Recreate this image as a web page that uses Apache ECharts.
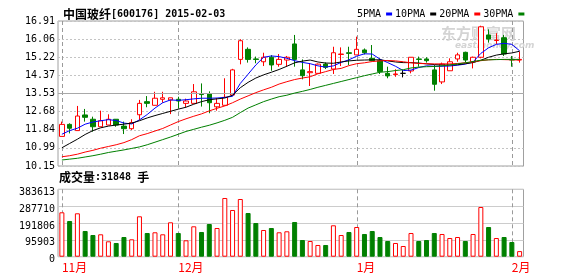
<!DOCTYPE html>
<html><head><meta charset="utf-8">
<script src="https://cdn.jsdelivr.net/npm/echarts@6/dist/echarts.min.js"></script>
<style>html,body{margin:0;padding:0;background:#fff}#c{width:578px;height:276px}</style>
</head><body><div id="c"></div>
<script>
const stockName = '中国玻纤';
const stockCode = '600176';
const dates = [
 '2014-11-10','2014-11-11','2014-11-12','2014-11-13','2014-11-14',
 '2014-11-17','2014-11-18','2014-11-19','2014-11-20','2014-11-21',
 '2014-11-24','2014-11-25','2014-11-26','2014-11-27','2014-11-28',
 '2014-12-01','2014-12-02','2014-12-03','2014-12-04','2014-12-05',
 '2014-12-08','2014-12-09','2014-12-10','2014-12-11','2014-12-12',
 '2014-12-15','2014-12-16','2014-12-17','2014-12-18','2014-12-19',
 '2014-12-22','2014-12-23','2014-12-24','2014-12-25','2014-12-26',
 '2014-12-29','2014-12-30','2014-12-31',
 '2015-01-05','2015-01-06','2015-01-07','2015-01-08','2015-01-09',
 '2015-01-12','2015-01-13','2015-01-14','2015-01-15','2015-01-16',
 '2015-01-19','2015-01-20','2015-01-21','2015-01-22','2015-01-23',
 '2015-01-26','2015-01-27','2015-01-28','2015-01-29','2015-01-30',
 '2015-02-02','2015-02-03'];
const opens = [11.53,12.09,11.80,12.53,12.33,11.98,12.06,12.33,12.01,11.89,
 12.54,13.15,12.98,13.26,13.23,13.26,13.07,13.07,13.52,13.51,
 12.91,12.98,13.46,15.12,15.59,15.14,15.01,15.22,14.89,15.09,
 15.84,14.63,14.50,14.47,14.90,14.67,15.35,15.43,15.33,15.56,
 15.17,15.06,14.47,14.41,14.47,14.58,15.14,15.14,14.63,14.07,
 14.59,15.14,15.45,15.01,15.22,16.26,16.00,16.13,15.12,15.09];
const closes = [12.09,11.91,12.48,12.42,11.98,12.26,12.33,12.06,11.89,12.17,
 13.07,13.07,13.31,13.33,13.33,13.18,13.18,13.61,13.48,13.10,
 13.07,13.35,14.63,15.99,15.12,15.12,15.22,14.86,15.12,15.22,
 15.12,14.36,14.55,14.90,14.75,15.43,15.37,15.40,15.59,15.43,
 15.06,14.55,14.35,14.44,14.47,15.22,15.12,15.06,13.96,14.90,
 15.01,15.33,15.09,15.22,16.64,16.07,16.02,15.37,15.09,15.12];
const lows = [11.53,11.67,11.80,12.22,11.75,11.98,12.06,11.98,11.64,11.83,
 12.29,12.89,12.98,13.10,12.57,12.84,12.89,13.07,12.92,12.61,
 12.73,12.98,13.46,14.89,14.97,14.94,14.81,14.59,14.78,14.78,
 14.78,14.19,13.88,14.47,14.67,14.44,14.81,14.86,15.33,15.35,
 15.06,14.44,14.24,14.31,14.28,14.47,14.78,14.97,13.66,13.97,
 14.59,15.01,14.97,14.70,15.17,15.90,15.84,15.28,14.78,14.97];
const highs = [12.22,12.14,12.95,12.81,12.45,12.73,12.56,12.34,12.22,12.33,
 13.23,13.41,13.61,13.61,13.33,13.38,13.29,13.97,14.00,13.63,
 13.31,14.24,14.68,16.06,15.68,15.25,15.43,15.32,15.37,15.28,
 16.26,15.12,14.95,14.93,14.98,15.71,15.68,15.71,16.18,15.63,
 15.79,15.17,14.78,14.66,14.63,15.22,15.25,15.22,14.86,14.97,
 15.17,15.43,15.48,15.25,16.69,16.52,16.34,16.26,15.28,15.48];
const volumes = [252700,203200,247000,146300,123500,127500,87600,78000,112100,99000,
 229900,134900,138900,127500,195800,134900,93300,173000,140600,186100,
 163300,334100,265800,328400,248700,191800,152000,163300,138900,144600,
 197500,95000,89400,66600,66600,178700,123500,140600,169000,129200,
 146300,112100,89400,78000,60900,134900,89400,95000,134900,129200,
 106400,112100,89400,129200,282900,169000,106400,112100,83700,31848];
const ma5 = [11.63,11.80,11.91,12.10,12.20,12.26,12.31,12.27,12.15,12.11,
 12.30,12.55,12.85,13.10,13.23,13.21,13.24,13.28,13.31,13.31,
 13.32,13.35,13.40,14.00,14.43,14.86,15.22,15.28,15.25,15.17,
 15.06,14.98,14.92,14.82,14.76,14.82,14.98,15.10,15.27,15.38,
 15.37,15.13,14.97,14.80,14.60,14.62,14.74,14.82,14.80,14.80,
 14.81,14.85,14.90,15.00,15.40,15.66,15.82,15.87,15.82,15.52];
const ma10 = [11.00,11.20,11.40,11.62,11.80,11.93,12.01,12.06,12.10,12.15,
 12.26,12.39,12.50,12.60,12.70,12.80,12.89,13.03,13.15,13.24,
 13.28,13.32,13.45,13.80,14.05,14.25,14.40,14.52,14.65,14.80,
 14.96,15.04,15.09,15.00,14.95,14.94,15.00,15.05,15.08,15.09,
 15.10,15.10,15.05,15.00,14.97,14.97,14.95,14.91,14.88,14.86,
 14.86,14.87,14.92,14.97,15.08,15.22,15.32,15.38,15.42,15.50];
const ma20 = [10.58,10.63,10.70,10.80,10.88,10.98,11.06,11.14,11.24,11.38,
 11.56,11.66,11.78,11.90,12.06,12.22,12.35,12.47,12.58,12.72,
 12.84,12.95,13.10,13.27,13.42,13.57,13.70,13.82,13.97,14.08,
 14.18,14.25,14.31,14.45,14.55,14.65,14.70,14.83,14.92,14.96,
 15.02,15.05,15.07,15.05,15.01,14.96,14.93,14.92,14.91,14.91,
 14.91,14.93,14.96,15.00,15.06,15.10,15.12,15.11,15.10,15.09];
const ma30 = [10.43,10.47,10.51,10.57,10.63,10.70,10.78,10.84,10.90,10.97,
 11.04,11.14,11.26,11.38,11.50,11.63,11.76,11.86,11.96,12.05,
 12.16,12.28,12.42,12.64,12.85,13.00,13.15,13.27,13.38,13.45,
 13.55,13.63,13.72,13.82,13.91,14.00,14.09,14.18,14.27,14.36,
 14.44,14.52,14.55,14.60,14.64,14.72,14.76,14.78,14.79,14.82,
 14.86,14.91,14.96,15.02,15.08,15.10,15.11,15.12,15.12,15.12];
const priceTicks = ['10.15','10.99','11.84','12.68','13.53','14.37','15.22','16.06','16.91'];
const volTicks = ['0','95903','191806','287710','383613'];
const maNames = ['5PMA','10PMA','20PMA','30PMA'];

const RED = '#ff0000', GREEN = '#008000';
const MONO = 'DejaVu Sans Mono', CJK = 'Noto Sans CJK SC';
const pMin = +priceTicks[0], pMax = +priceTicks[priceTicks.length - 1];
const pStep = (pMax - pMin) / (priceTicks.length - 1);
const vMax = +volTicks[volTicks.length - 1];
const isMonthStart = (i) => i === 0 || dates[i].slice(5, 7) !== dates[i - 1].slice(5, 7);
const monthStartIdx = dates.map((d, i) => i).filter(isMonthStart);

const candleData = dates.map((d, i) => {
  const it = { value: [opens[i], closes[i], lows[i], highs[i]] };
  if (opens[i] === closes[i]) {
    it.itemStyle = { color: '#000', color0: '#000', borderColor: '#000', borderColor0: '#000', borderColorDoji: '#000' };
  }
  return it;
});
const volData = volumes.map((v, i) => {
  const up = closes[i] >= opens[i];
  return { value: v, itemStyle: up ? { color: '#ffffff', borderColor: RED, borderWidth: 1 } : { color: GREEN, borderColor: GREEN, borderWidth: 1 } };
});
const maColors = ['#0000ff', '#000000', RED, GREEN];
const maData = [ma5, ma10, ma20, ma30];

function monthGuide(params, api) {
  const cs = params.coordSys;
  const x = Math.round(api.coord([api.value(0), api.value(1)])[0]) + 0.5;
  return { type: 'line', z2: 10,
    shape: { x1: x, y1: cs.y, x2: x, y2: cs.y + cs.height },
    style: { stroke: '#9a9a9a', lineWidth: 1, lineDash: [4, 3], fill: null } };
}

const chart = echarts.init(document.getElementById('c'));
chart.setOption({
  animation: false,
  backgroundColor: '#ffffff',
  title: [{
    left: 63, top: 8, padding: 0,
    text: '{c|' + stockName + '}{a|[' + stockCode + '] ' + dates[dates.length - 1] + '}',
    textStyle: { rich: { c: { fontFamily: CJK, fontSize: 12, color: '#000' }, a: { fontFamily: MONO, fontSize: 10, color: '#000' } } }
  }, {
    left: 59, top: 171, padding: 0,
    text: '{c|成交量}{a|:' + volumes[volumes.length - 1] + ' }{c|手}',
    textStyle: { rich: { c: { fontFamily: CJK, fontSize: 12, color: '#000' }, a: { fontFamily: MONO, fontSize: 10, color: '#000' } } }
  }],
  legend: {
    data: maNames, left: 357, top: 9, padding: 0, align: 'right', icon: 'rect',
    itemWidth: 6, itemHeight: 3, itemGap: 3, selectedMode: false,
    textStyle: { fontFamily: MONO, fontSize: 10, color: '#000' }
  },
  graphic: [
    { type: 'text', left: 441, top: 26, silent: true, style: { text: '东方财富网', fill: '#d4d4d4', font: 'bold 15px "Noto Sans CJK SC"' } },
    { type: 'text', left: 455, top: 41, silent: true, style: { text: 'eastmoney.com', fill: '#d4d4d4', font: 'italic bold 9px "DejaVu Sans"' } }
  ],
  grid: [
    { left: 58, top: 21, width: 465.5, height: 145, show: true, borderColor: '#a0a0a0', borderWidth: 1 },
    { left: 58, top: 189.3, width: 465.5, height: 67.4, show: true, borderColor: '#a0a0a0', borderWidth: 1 }
  ],
  xAxis: [
    { type: 'category', gridIndex: 0, data: dates, boundaryGap: true,
      axisLine: { show: false }, axisTick: { show: false }, axisLabel: { show: false }, splitLine: { show: false } },
    { type: 'category', gridIndex: 1, data: dates, boundaryGap: true,
      axisLine: { show: false }, axisTick: { show: false }, splitLine: { show: false },
      axisLabel: { show: true, interval: (i) => isMonthStart(i), formatter: (v) => parseInt(v.slice(5, 7), 10) + '月',
        color: RED, fontFamily: CJK, fontSize: 12, align: 'left', margin: 5 } }
  ],
  yAxis: [
    { type: 'value', gridIndex: 0, min: pMin, max: pMax, interval: pStep, scale: true,
      axisLine: { show: false }, axisTick: { show: false },
      axisLabel: { formatter: (v, i) => priceTicks[i], fontFamily: MONO, fontSize: 10, color: '#000', margin: 3 },
      splitLine: { show: true, lineStyle: { color: '#c4c4c4', type: [2, 2], width: 1 } } },
    { type: 'value', gridIndex: 1, min: 0, max: vMax, interval: vMax / (volTicks.length - 1),
      axisLine: { show: false }, axisTick: { show: false },
      axisLabel: { formatter: (v, i) => volTicks[i], fontFamily: MONO, fontSize: 10, color: '#000', margin: 3, verticalAlign: 'top', lineHeight: 6 },
      splitLine: { show: true, lineStyle: { color: '#cccccc', width: 1 } } }
  ],
  series: [
    { type: 'custom', name: 'monthGuide', coordinateSystem: 'cartesian2d', xAxisIndex: 0, yAxisIndex: 0, z: 2,
      renderItem: monthGuide, encode: { x: 0, y: 1 }, data: monthStartIdx.map(i => [i, pMin]) },
    { type: 'custom', name: 'monthGuide2', coordinateSystem: 'cartesian2d', xAxisIndex: 1, yAxisIndex: 1, z: 2,
      renderItem: monthGuide, encode: { x: 0, y: 1 }, data: monthStartIdx.map(i => [i, 0]) },
    { type: 'candlestick', name: 'K', xAxisIndex: 0, yAxisIndex: 0, data: candleData, barWidth: 5, z: 3,
      itemStyle: { color: '#ffffff', color0: GREEN, borderColor: RED, borderColor0: GREEN, borderWidth: 1 },
      markLine: { silent: true, symbol: 'none', label: { show: false }, animation: false,
        data: [{ yAxis: pMin + 4 * pStep, lineStyle: { color: '#a8a8a8', type: 'solid', width: 1 } }] } },
    ...maNames.map((n, k) => ({
      type: 'line', name: n, xAxisIndex: 0, yAxisIndex: 0, data: maData[k], showSymbol: false, symbol: 'none',
      z: 5, silent: true, itemStyle: { color: maColors[k] }, lineStyle: { color: maColors[k], width: 1 }
    })),
    { type: 'bar', name: 'VOL', xAxisIndex: 1, yAxisIndex: 1, data: volData, barWidth: 5, z: 3 }
  ]
});
</script></body></html>
